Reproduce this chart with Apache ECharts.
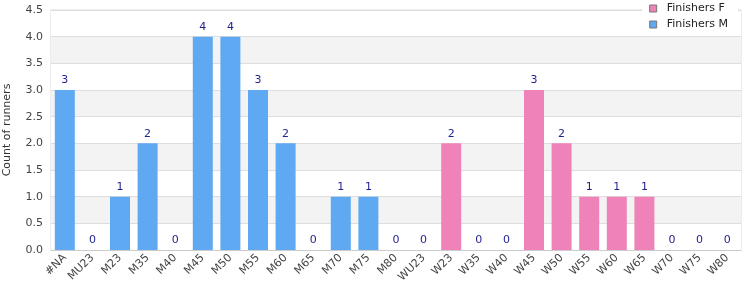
<!DOCTYPE html>
<html>
<head>
<meta charset="utf-8">
<script src="https://cdn.jsdelivr.net/npm/echarts@6/dist/echarts.min.js"></script>
<style>html,body{margin:0;padding:0;background:#fff}#main{width:750px;height:300px}</style>
</head>
<body>
<div id="main"></div>
<script>
var chartDom = document.getElementById('main');
var myChart = echarts.init(chartDom);
var option;

let categories = ['#NA','MU23','M23','M35','M40','M45','M50','M55','M60','M65','M70','M75','M80',
  'WU23','W23','W35','W40','W45','W50','W55','W60','W65','W70','W75','W80'];
let finishersM = [3,0,1,2,0,4,4,3,2,0,1,1,0, null,null,null,null,null,null,null,null,null,null,null,null];
let finishersF = [null,null,null,null,null,null,null,null,null,null,null,null,null, 0,2,0,0,3,2,1,1,1,0,0,0];
let yTicks = { min: 0, max: 4.5, interval: 0.5 };

let labelStyle = {
  show: true,
  position: 'top',
  color: '#1f1f8f',
  fontSize: 11,
  distance: 4
};

option = {
  animation: false,
  textStyle: { fontFamily: 'DejaVu Sans' },
  grid: {
    left: 51, right: 9, top: 10, bottom: 50,
    containLabel: false,
    outerBoundsMode: 'none',
    show: true, borderColor: '#d9d9d9', borderWidth: 1, backgroundColor: '#fff'
  },
  legend: {
    orient: 'vertical',
    right: 12,
    top: 2,
    padding: [1, 10, 4, 7],
    itemGap: 5,
    itemWidth: 7,
    itemHeight: 7,
    backgroundColor: '#fff',
    icon: 'rect',
    itemStyle: { borderColor: '#777', borderWidth: 1 },
    textStyle: { fontSize: 11, color: '#222', padding: [0, 0, 0, 5] },
    data: ['Finishers F', 'Finishers M'],
    z: 10
  },
  xAxis: {
    type: 'category',
    data: categories,
    axisTick: { show: false },
    axisLine: { lineStyle: { color: '#cccccc' } },
    axisLabel: { rotate: 45, interval: 0, color: '#444', fontSize: 11, margin: 6, hideOverlap: false }
  },
  yAxis: {
    type: 'value',
    min: yTicks.min, max: yTicks.max, interval: yTicks.interval,
    name: 'Count of runners',
    nameLocation: 'middle',
    nameGap: 38,
    nameTextStyle: { color: '#333', fontSize: 11 },
    axisLabel: { color: '#444', fontSize: 11, formatter: v => v.toFixed(1) },
    axisLine: { show: false },
    axisTick: { show: false },
    splitLine: { lineStyle: { color: '#dedede' } },
    splitArea: { show: true, areaStyle: { color: ['#ffffff', '#f3f3f3'] } }
  },
  series: [
    {
      name: 'Finishers F',
      type: 'bar',
      stack: 'all',
      data: finishersF,
      barWidth: 20,
      itemStyle: { color: '#f082ba' },
      label: labelStyle
    },
    {
      name: 'Finishers M',
      type: 'bar',
      stack: 'all',
      data: finishersM,
      barWidth: 20,
      itemStyle: { color: '#5fa8f2' },
      label: labelStyle
    }
  ]
};

option && myChart.setOption(option);
</script>
</body>
</html>
